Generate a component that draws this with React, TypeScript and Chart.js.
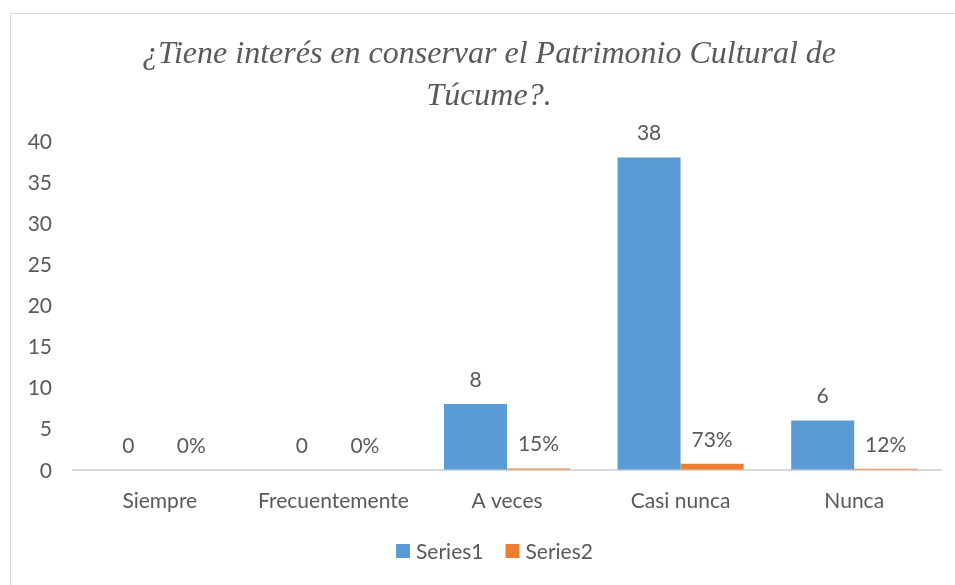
import React, { useEffect, useRef } from "react";
import { Chart, registerables } from "chart.js";

Chart.register(...registerables);

const categories = ["Siempre", "Frecuentemente", "A veces", "Casi nunca", "Nunca"];
const series1 = [0, 0, 8, 38, 6];
const series2 = [0, 0, 0.15, 0.73, 0.12];
const seriesNames = ["Series1", "Series2"];
const seriesColors = ["#5B9BD5", "#ED7D31"];
const titleLines = ["¿Tiene interés en conservar el Patrimonio Cultural de", "Túcume?."];

const TEXT = "#595959";
const FONT = "Lato, 'Open Sans', sans-serif";
const FS = 21;

const labelPlugin = {
  id: "barLabels",
  afterDatasetsDraw(chart: any) {
    const ctx = chart.ctx;
    ctx.save();
    ctx.fillStyle = TEXT;
    ctx.font = `${FS}px ${FONT}`;
    ctx.textAlign = "center";
    ctx.textBaseline = "middle";
    chart.data.datasets.forEach((ds: any, di: number) => {
      const meta = chart.getDatasetMeta(di);
      meta.data.forEach((el: any, i: number) => {
        const v = ds.data[i];
        const txt = di === 0 ? String(v) : `${Math.round(v * 100)}%`;
        ctx.fillText(txt, el.x, el.y - 24);
      });
    });
    // y tick labels from the y scale
    const ys = chart.scales.y;
    ctx.textAlign = "right";
    ys.ticks.forEach((t: any) => {
      ctx.fillText(String(t.value), chart.chartArea.left - 21, ys.getPixelForValue(t.value) + 1);
    });
    // legend
    const gap = 22;
    const boxSize = 14;
    const items = chart.data.datasets.map((ds: any) => ({
      label: ds.label,
      color: ds.backgroundColor,
      w: boxSize + 6 + ctx.measureText(ds.label).width,
    }));
    const total = items.reduce((a: number, it: any) => a + it.w, 0) + gap * (items.length - 1);
    let x = 494.5 - total / 2;
    const ly = 551;
    ctx.textAlign = "left";
    items.forEach((it: any) => {
      ctx.fillStyle = it.color;
      ctx.fillRect(x, ly - boxSize / 2, boxSize, boxSize);
      ctx.fillStyle = TEXT;
      ctx.fillText(it.label, x + boxSize + 6, ly + 1);
      x += it.w + gap;
    });
    // title
    ctx.textAlign = "center";
    ctx.textBaseline = "alphabetic";
    ctx.font = `italic 32px 'Liberation Serif', 'Times New Roman', serif`;
    ctx.fillText(titleLines[0], 489, 63);
    ctx.fillText(titleLines[1], 489, 105);
    ctx.restore();
  },
};

export default function App() {
  const ref = useRef<HTMLCanvasElement>(null);
  useEffect(() => {
    if (!ref.current) return;
    const chart = new Chart(ref.current, {
      type: "bar",
      data: {
        labels: categories,
        datasets: [
          { label: seriesNames[0], data: series1, backgroundColor: seriesColors[0], borderWidth: 0 },
          { label: seriesNames[1], data: series2, backgroundColor: seriesColors[1], borderWidth: 0 },
        ],
      },
      options: {
        responsive: false,
        animation: false,
        layout: { padding: { left: 27, right: 14, top: 141, bottom: 60 } },
        datasets: { bar: { categoryPercentage: 0.726, barPercentage: 1 } },
        plugins: {
          title: { display: false },
          legend: { display: false },
          tooltip: { enabled: false },
        },
        scales: {
          x: {
            grid: { display: false },
            border: { display: true, color: "#d9d9d9", width: 2 },
            ticks: { color: TEXT, font: { family: FONT, size: FS }, padding: 11 },
            afterFit: (s: any) => { s.paddingLeft = 0; s.paddingRight = 0; },
          },
          y: {
            min: 0,
            max: 40,
            grid: { display: false, drawTicks: false },
            border: { display: false },
            ticks: { stepSize: 5, display: false },
            afterFit: (s: any) => { s.width = 46; s.paddingTop = 0; s.paddingBottom = 0; },
          },
        },
      },
      plugins: [labelPlugin],
    } as any);
    return () => chart.destroy();
  }, []);
  return (
    <div style={{ position: "absolute", left: 0, top: 0, width: 955, height: 585, overflow: "hidden", background: "#fff" }}>
      <div style={{ position: "absolute", left: 10, top: 13, width: 980, height: 620, border: "1px solid #d9d9d9" }} />
      <canvas ref={ref} width={955} height={585} style={{ position: "absolute", left: 0, top: 0 }} />
    </div>
  );
}
